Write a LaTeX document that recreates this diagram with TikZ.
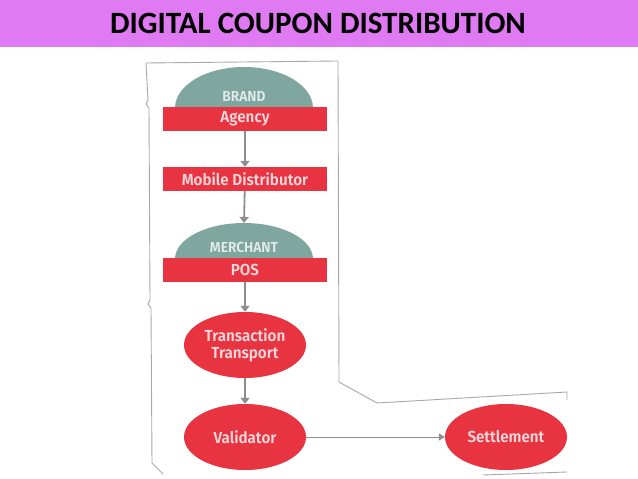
\documentclass[tikz,border=0pt]{standalone}
\usepackage{fontspec}
\setmainfont{Carlito}
\newfontfamily\cond[FakeStretch=0.95]{Fira Sans SemiBold}
\usetikzlibrary{arrows.meta,shapes.geometric}
\definecolor{titlebg}{HTML}{E07AF2}
\definecolor{cred}{HTML}{E83440}
\definecolor{dome}{HTML}{80A6A0}
\definecolor{ctext}{HTML}{F8D8DC}
\definecolor{dtext}{HTML}{E2ECEA}
\definecolor{arr}{HTML}{8E8E8E}
\definecolor{frame}{HTML}{A8A8A8}
\tikzset{
  x=1pt,y=-1pt,
  redbar/.style={fill=cred,minimum width=164pt,minimum height=24pt,inner sep=0pt,text=ctext,font=\cond\fontsize{16}{16}\selectfont},
  redell/.style={ellipse,fill=cred,minimum width=122pt,minimum height=66pt,inner sep=0pt,text=ctext,font=\cond\fontsize{16}{17}\selectfont,align=center},
  domelbl/.style={text=dtext,font=\cond\fontsize{14.5}{14}\selectfont},
  flow/.style={draw=arr,line width=1.8pt,-{Triangle[length=6pt,width=9pt]}},
  flowthin/.style={draw=arr,line width=1pt,-{Triangle[length=6pt,width=7pt]}},
  framel/.style={draw=frame,line width=0.9pt}
}
\begin{document}
\begin{tikzpicture}
\useasboundingbox (0,0) rectangle (638,479);
\fill[white] (0,0) rectangle (638,479);
% title bar
\fill[titlebg] (0,0) rectangle (638,47);
\node[text=black] (title) at (318,23) {\fontsize{31}{31}\selectfont\bfseries DIGITAL COUPON DISTRIBUTION};
% frame
\draw[framel] (146,63) -- (338,61) -- (339,382) -- (377,403) -- (567,392) -- (567,400);
\draw[framel] (146,63) -- (148,100) -- (146,104) -- (149,108) -- (150,300) -- (148,304) -- (151,308) -- (152,463) -- (163,474);
\draw[framel] (483,475) -- (567,472);
% brand dome
\fill[dome] (175,108) arc[start angle=180,end angle=360,x radius=69,y radius=41];
\node[domelbl] (brand) at (244,96) {BRAND};
\node[redbar] (agency) at (245,119) {Agency};
\node[redbar] (mobile) at (245,179) {Mobile Distributor};
% merchant dome
\fill[dome] (175,259) arc[start angle=180,end angle=360,x radius=69,y radius=36];
\node[domelbl] (merchant) at (244,247) {MERCHANT};
\node[redbar] (pos) at (245,270) {POS};
\node[redell] (trans) at (245,345) {Transaction\\Transport};
\node[redell] (valid) at (245,437) {Validator};
\node[redell] (settle) at (506,437) {Settlement};
% connectors
\draw[flow] (agency) -- (mobile);
\draw[flow] (mobile) -- (244,223);
\draw[flow] (pos) -- (trans);
\draw[flow] (trans) -- (valid);
\draw[flowthin] (valid) -- (settle);
\end{tikzpicture}
\end{document}
